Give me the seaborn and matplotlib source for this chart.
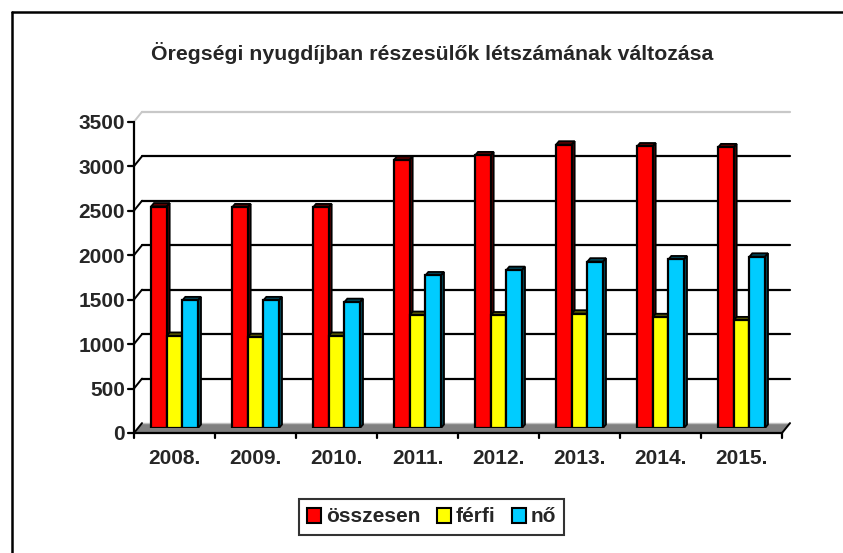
import numpy as np
import pandas as pd
import seaborn as sns
import matplotlib.pyplot as plt
from matplotlib.patches import Polygon, Patch
from matplotlib.lines import Line2D

# adatok
evek = ['2008.', '2009.', '2010.', '2011.', '2012.', '2013.', '2014.', '2015.']
osszesen = [2490, 2480, 2480, 3015, 3065, 3185, 3165, 3155]
ferfi = [1035, 1020, 1035, 1270, 1265, 1285, 1245, 1210]
no = [1435, 1435, 1415, 1715, 1775, 1870, 1895, 1925]
sorozatok = ['összesen', 'férfi', 'nő']
szinek = ['#FF0000', '#FFFF00', '#00CCFF']
y_ticks = [0, 500, 1000, 1500, 2000, 2500, 3000, 3500]
cim = 'Öregségi nyugdíjban részesülők létszámának változása'

df = pd.DataFrame({
    'ev': evek * 3,
    'ertek': osszesen + ferfi + no,
    'sorozat': np.repeat(sorozatok, len(evek)),
})

sns.set_style('white')
plt.rcParams['font.family'] = ['Liberation Sans', 'DejaVu Sans']
plt.rcParams['font.weight'] = 'bold'

W, H = 843, 553
fig = plt.figure(figsize=(W / 100, H / 100), dpi=100)
ax = fig.add_axes([134 / W, (H - 428) / H, 648 / W, 311.3 / H])

sns.barplot(df, x='ev', y='ertek', hue='sorozat', palette=szinek,
            saturation=1, width=0.58, edgecolor='black', linewidth=1.6,
            legend=False, ax=ax, zorder=3)
ax.set_xlim(-0.5, len(evek) - 0.5)
ax.set_ylim(0, 3500)
ax.axis('off')

# pixel -> adat egysegek
px_x = len(evek) / 648
px_y = 3500 / 311.3
front_dy = -5 * px_y
back_dx = 8 * px_x
back_dy = 4.9 * px_y
x0, x1 = -0.5, len(evek) - 0.5

# 3D hatas az oszlopokon
ddx, ddy = 3 * px_x, 3.5 * px_y
for p in ax.patches:
    h = p.get_height()
    if h <= 0:
        continue
    bx, bw = p.get_x(), p.get_width()
    c = np.array(p.get_facecolor()[:3]) * 0.35
    top = Polygon([(bx, h), (bx + bw, h), (bx + bw + ddx, h + ddy), (bx + ddx, h + ddy)],
                  closed=True, facecolor=c, edgecolor='black', lw=1.3, zorder=2.5)
    side = Polygon([(bx + bw, 0), (bx + bw + ddx, ddy), (bx + bw + ddx, h + ddy), (bx + bw, h)],
                   closed=True, facecolor=c, edgecolor='black', lw=1.3, zorder=2.5)
    ax.add_patch(top)
    ax.add_patch(side)

# padlo
floor = Polygon([(x0, front_dy), (x1, front_dy), (x1 + back_dx, back_dy), (x0 + back_dx, back_dy)],
                closed=True, facecolor='#808080', edgecolor='none', zorder=1.5, clip_on=False)
ax.add_patch(floor)
ax.plot([x0 + back_dx, x1 + back_dx], [back_dy, back_dy], color='#c0c0c0', lw=1, zorder=1.6, clip_on=False)

# racsvonalak a hatso falon
for v in y_ticks[1:]:
    col = '#c8c8c8' if v == y_ticks[-1] else 'black'
    ax.plot([x0 + back_dx, x1 + back_dx], [v + back_dy] * 2, color=col, lw=1.6, zorder=1, clip_on=False)
for v in y_ticks:
    col = '#c8c8c8' if v == y_ticks[-1] else 'black'
    ax.plot([x0, x0 + back_dx], [v + front_dy, v + back_dy], color=col, lw=1.4, zorder=1.7, clip_on=False)

# y tengely
ax.plot([x0, x0], [front_dy, y_ticks[-1] + front_dy], color='black', lw=1.6, zorder=4, clip_on=False)
for v in y_ticks:
    ax.plot([x0 - 6 * px_x, x0], [v + front_dy] * 2, color='black', lw=1.6, zorder=4, clip_on=False)
    ax.text(x0 - 9 * px_x, v + front_dy, str(v), ha='right', va='center_baseline',
            fontsize=15, fontweight='bold')

# x tengely
ax.plot([x0, x1], [front_dy, front_dy], color='black', lw=1.6, zorder=4, clip_on=False)
ax.plot([x1, x1 + back_dx], [front_dy, back_dy], color='black', lw=1.4, zorder=4, clip_on=False)
for b in np.arange(x0, x1 + 0.1, 1):
    ax.plot([b, b], [front_dy, front_dy - 5 * px_y], color='black', lw=1.6, zorder=4, clip_on=False)
for i, ev in enumerate(evek):
    ax.text(i, front_dy - 24 * px_y, ev, ha='center', va='center_baseline',
            fontsize=15, fontweight='bold')

# cim
fig.text(432 / W, 1 - 59.5 / H, cim, ha='center', va='baseline', fontsize=15.3, fontweight='bold')

# jelmagyarazat
handles = [Patch(facecolor=c, edgecolor='black', lw=1.5, label=s) for c, s in zip(szinek, sorozatok)]
leg = fig.legend(handles=handles, loc='center', bbox_to_anchor=(431.5 / W, 1 - 517 / H),
                 ncol=3, frameon=True, fancybox=False, shadow=False, fontsize=15,
                 handlelength=0.7, handleheight=0.7, handletextpad=0.2,
                 columnspacing=0.8, borderpad=0.4)
leg.get_frame().set_edgecolor('black')
leg.get_frame().set_linewidth(1.5)

# kulso keret (bal es felso el)
fig.add_artist(Line2D([11.5 / W, 11.5 / W], [0, 1 - 11.5 / H], color='black', lw=1.8))
fig.add_artist(Line2D([11.5 / W, 1], [1 - 11.5 / H, 1 - 11.5 / H], color='black', lw=1.8))

fig.savefig('out.png', dpi=100)
